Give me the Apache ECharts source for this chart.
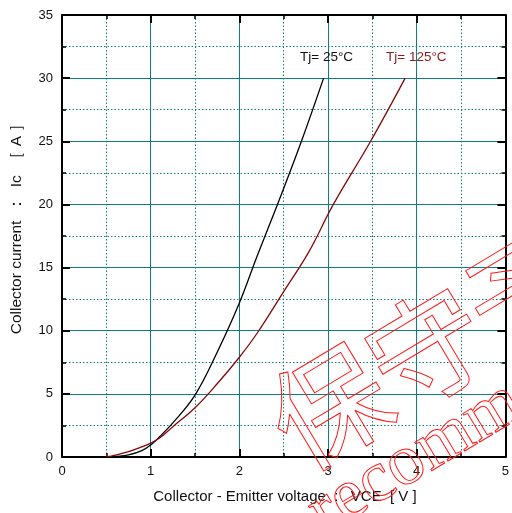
<!DOCTYPE html>
<html>
<head>
<meta charset="utf-8">
<script src="https://cdn.jsdelivr.net/npm/echarts@6/dist/echarts.min.js"></script>
<style>
  html, body { margin: 0; padding: 0; background: #fff; }
  #chart { width: 512px; height: 513px; }
</style>
</head>
<body>
<div id="chart"></div>
<script>
// Collector current vs. collector-emitter voltage at two junction temperatures
const vce25 = [0.5, 0.6, 0.75, 0.9, 1.0, 1.1, 1.25, 1.5, 1.75, 2.0, 2.2, 2.43, 2.7, 2.95];
const ic25  = [0, 0.05, 0.16, 0.5, 0.95, 1.6, 2.7, 4.9, 8.3, 12.2, 15.9, 20, 25, 30];

const vce125 = [0.5, 0.6, 0.75, 0.9, 1.0, 1.1, 1.25, 1.5, 1.75, 2.0, 2.2, 2.5, 2.78, 3.06, 3.48, 3.87];
const ic125  = [0, 0.15, 0.42, 0.8, 1.1, 1.5, 2.4, 3.9, 5.8, 7.9, 9.8, 13.1, 16.2, 20, 25, 30];

const seriesNames = ['Tj= 25°C', 'Tj= 125°C'];
const xTitle = 'Collector - Emitter voltage  :   VCE  [ V ]';
const yTitle = 'Collector current  ：  Ic  ［ A ］';
const stampJa = ['保', '守', '予'];
const stampEn = ['Not ', 'recommended'];

const pairs = (xs, ys) => xs.map((x, i) => [x, ys[i]]);

const TEAL = '#0e7f7f';
const FONT = 'Liberation Sans, Arial, sans-serif';

function axisBase(extra) {
  return Object.assign({
    type: 'value',
    axisLine: { show: true, onZero: false, lineStyle: { color: '#000', width: 2 } },
    axisTick: { show: true, inside: true, length: 8, lineStyle: { color: '#000', width: 2 } },
    minorTick: { show: true, splitNumber: 2, length: 4, lineStyle: { color: '#000', width: 1.5 } },
    axisLabel: { show: false },
    splitLine: { show: false },
    minorSplitLine: { show: false }
  }, extra);
}

const xMain = axisBase({
  min: 0, max: 5, interval: 1, position: 'bottom',
  axisLabel: { show: true, color: '#111', fontFamily: FONT, fontSize: 13, margin: 8 },
  splitLine: { show: true, lineStyle: { color: TEAL, width: 1 } },
  minorSplitLine: { show: true, lineStyle: { color: TEAL, width: 1, type: [1.5, 2] } }
});
const xTop = axisBase({ min: 0, max: 5, interval: 1, position: 'top' });

const yMain = axisBase({
  min: 0, max: 35, interval: 5, position: 'left',
  axisLabel: { show: true, color: '#111', fontFamily: FONT, fontSize: 13, margin: 9 },
  splitLine: { show: true, lineStyle: { color: TEAL, width: 1 } },
  minorSplitLine: { show: true, lineStyle: { color: TEAL, width: 1, type: [1.5, 2] } }
});
const yRight = axisBase({ min: 0, max: 35, interval: 5, position: 'right' });

// rotated outline stamp across the lower right
const ang = 31 * Math.PI / 180;
const stampStyle = { fill: 'rgba(0,0,0,0)', stroke: '#ff1a1a', lineWidth: 1 };
const jaCenters = [[329, 406], [427, 348], [525, 290]];
const stamp = stampJa.map((ch, i) => ({
  type: 'text', x: jaCenters[i][0], y: jaCenters[i][1], rotation: ang, z: 100,
  style: Object.assign({ text: ch, font: 'normal 116px "Noto Sans CJK JP"', align: 'center', verticalAlign: 'middle' }, stampStyle)
}));
const enAnchor = [333, 550];
stamp.push({
  type: 'text', x: enAnchor[0], y: enAnchor[1], rotation: ang, z: 100,
  style: Object.assign({ text: stampEn[0], font: '72px "Liberation Serif"', align: 'right', verticalAlign: 'bottom' }, stampStyle)
});
stamp.push({
  type: 'text', x: enAnchor[0], y: enAnchor[1], rotation: ang, z: 100,
  style: Object.assign({ text: stampEn[1], font: '72px "Liberation Serif"', align: 'left', verticalAlign: 'bottom' }, stampStyle)
});

const chart = echarts.init(document.getElementById('chart'), null, { renderer: 'canvas' });
chart.setOption({
  animation: false,
  backgroundColor: '#fff',
  grid: { left: 62, right: 5, top: 15, bottom: 56, containLabel: false },
  xAxis: [xMain, xTop],
  yAxis: [yMain, yRight],
  series: [
    {
      name: seriesNames[0], type: 'line', xAxisIndex: 0, yAxisIndex: 0,
      data: pairs(vce25, ic25), smooth: 0.4, showSymbol: false,
      lineStyle: { color: '#000', width: 1.3 }
    },
    {
      name: seriesNames[1], type: 'line', xAxisIndex: 0, yAxisIndex: 0,
      data: pairs(vce125, ic125), smooth: 0.4, showSymbol: false,
      lineStyle: { color: '#850808', width: 1.3 }
    }
  ],
  graphic: [
    { type: 'text', x: 300, y: 57, z: 50,
      style: { text: seriesNames[0], fill: '#111', font: '13.5px ' + FONT, verticalAlign: 'middle' } },
    { type: 'text', x: 386, y: 57, z: 50,
      style: { text: seriesNames[1], fill: '#8b1c1c', font: '13.5px ' + FONT, verticalAlign: 'middle' } },
    { type: 'text', x: 285, y: 497, z: 50,
      style: { text: xTitle, fill: '#111', font: '15px ' + FONT, align: 'center', verticalAlign: 'middle' } },
    { type: 'text', x: 17, y: 225, rotation: Math.PI / 2, z: 50,
      style: { text: yTitle, fill: '#111', font: '15.5px ' + FONT, align: 'center', verticalAlign: 'middle' } }
  ].concat(stamp)
});
</script>
</body>
</html>
